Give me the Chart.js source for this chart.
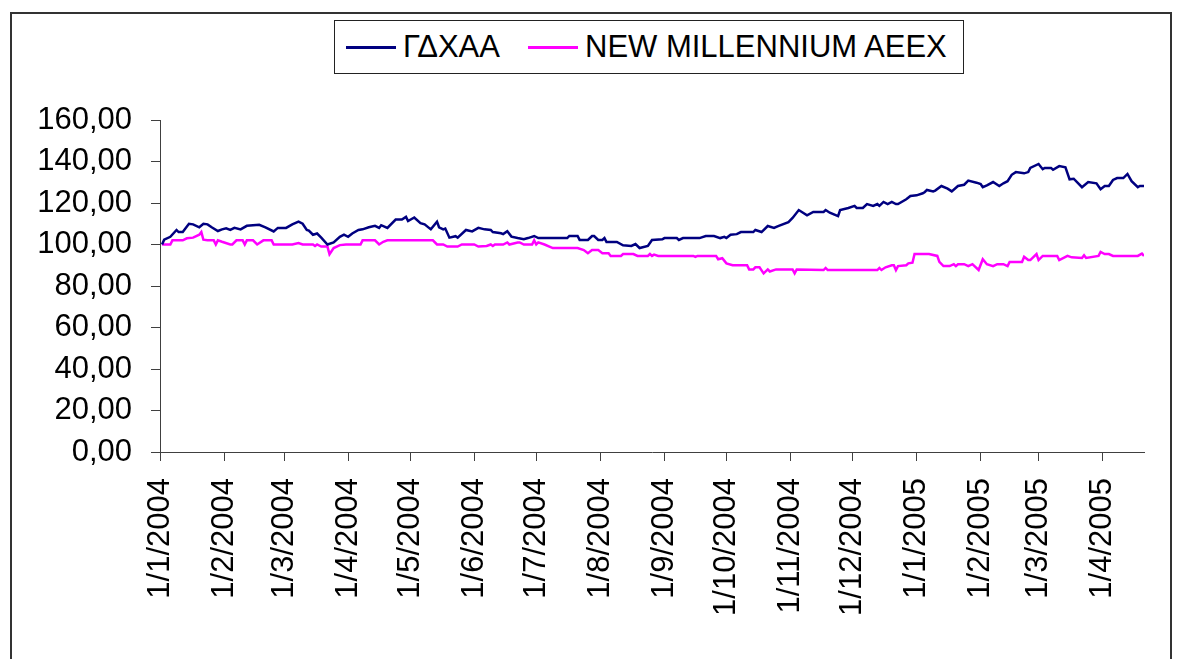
<!DOCTYPE html>
<html>
<head>
<meta charset="utf-8">
<script src="https://cdn.jsdelivr.net/npm/chart.js@4.4.1/dist/chart.umd.min.js"></script>
<style>
  body { margin: 0; background: #fff; }
  #wrap { position: relative; width: 1181px; height: 659px; overflow: hidden; }
  #frame { position: absolute; left: 10px; top: 12px; width: 1158px; height: 700px; border: 2px solid #333; }
  #lineChart { position: absolute; left: 0; top: 0; }
  #legend { position: absolute; left: 334px; top: 20px; width: 628px; height: 52px; border: 1px solid #222;
            font-family: 'Liberation Sans', Arial, sans-serif; font-size: 31px; color: #000; background: #fff; }
  .item { position: absolute; top: 0; height: 52px; display: flex; align-items: center; white-space: nowrap; }
  .swatch { width: 50px; height: 3px; margin-right: 7px; }
</style>
</head>
<body>
<div id="wrap">
  <div id="frame"></div>
  <canvas id="lineChart" width="1181" height="659"></canvas>
  <div id="legend"></div>
</div>
<script>
// x values are days counted from 1/1/2004
const tickLabels = ['1/1/2004', '1/2/2004', '1/3/2004', '1/4/2004', '1/5/2004', '1/6/2004', '1/7/2004',
  '1/8/2004', '1/9/2004', '1/10/2004', '1/11/2004', '1/12/2004', '1/1/2005', '1/2/2005', '1/3/2005', '1/4/2005'];
const lastDay = 476;

const gdxaaDays = [1, 2, 5, 8, 9, 11, 14, 16, 19, 21, 23, 25, 28, 30, 32, 34, 36, 39, 42, 48, 51, 55, 57, 61, 64, 67, 69, 71, 72, 74,
  76, 78, 81, 84, 87, 89, 91, 93, 96, 98, 101, 104, 106, 107, 110, 114, 117, 119, 120, 123, 126, 128, 131, 134, 135, 137, 138, 140,
  143, 144, 148, 151, 154, 157, 160, 161, 165, 166, 168, 170, 173, 176, 178, 181, 183, 197, 198, 202, 203, 207, 209, 210, 212, 214,
  215, 216, 221, 224, 228, 230, 232, 236, 238, 243, 244, 250, 251, 253, 261, 264, 268, 271, 273, 274, 276, 279, 281, 287, 288, 291,
  294, 297, 299, 304, 306, 309, 313, 316, 321, 322, 324, 328, 329, 333, 336, 337, 340, 342, 345, 347, 348, 350, 352, 354, 356, 357,
  361, 363, 366, 369, 370, 371, 374, 375, 378, 381, 383, 386, 389, 391, 395, 397, 398, 400, 403, 406, 408, 410, 412, 414, 418, 420,
  421, 425, 427, 428, 431, 432, 435, 438, 440, 442, 446, 449, 453, 455, 457, 459, 461, 463, 466, 468, 470, 473, 474, 476];
const gdxaaValues = [100, 102.3, 103.7, 107, 106, 106, 110, 109.7, 108.3, 110, 109.7, 108.3, 106.5, 107.3, 107.8, 107, 108, 107.3,
  109, 109.5, 108.3, 106.3, 108, 108, 109.7, 111, 110, 107, 106.7, 104.7, 105.3, 103.3, 100, 101, 103.7, 104.7, 103.7, 105.3, 107,
  107.3, 108.3, 109, 108, 109.3, 108, 112, 112, 113.3, 111.3, 113, 110.3, 109.7, 107.3, 111, 108.3, 107.3, 107.7, 103.3, 104, 103.3,
  107, 106.3, 108, 107.3, 107, 106, 105.4, 105, 106.4, 103.8, 103.1, 102.5, 103.1, 104.1, 103.1, 103.1, 104.1, 104.1, 102.2, 102.2,
  104.1, 104.1, 102.2, 102.2, 103.1, 101.2, 101.2, 99.6, 99.3, 100.2, 98.3, 99.3, 102.2, 102.5, 103.1, 103.1, 102.2, 103.1, 103.1,
  104.1, 104.1, 103.1, 103.7, 103.1, 104.7, 105, 106, 106, 107, 106, 108.9, 108, 108.9, 110.8, 112.8, 116.6, 114.1, 115.7, 115.7,
  116.6, 115.3, 113.7, 116.6, 117.6, 118.6, 117.6, 117.6, 119.5, 118.6, 119.5, 118.6, 120.5, 119.5, 120.5, 119.5, 119.5, 121.8,
  123.4, 123.7, 124.7, 125.3, 126.3, 125.6, 126, 128.2, 126.9, 125.6, 128.2, 128.8, 130.8, 129.8, 129.1, 127.6, 128.5, 130.1, 128.2,
  129.5, 130.5, 133.6, 134.9, 134.3, 134.9, 136.9, 138.8, 136.3, 136.9, 136.9, 136, 137.8, 137.2, 131.4, 131.7, 127.6, 130.1, 129.5,
  126.6, 128.2, 128.2, 131.1, 132, 132, 134, 130.5, 127.6, 128.2, 128.2];

const nmDays = [1, 5, 6, 11, 13, 16, 19, 20, 21, 23, 26, 27, 28, 30, 34, 35, 37, 40, 41, 42, 45, 47, 50, 54, 55, 64, 67, 69, 74, 75,
  76, 78, 81, 82, 84, 87, 90, 97, 98, 104, 106, 108, 110, 132, 134, 137, 139, 144, 146, 152, 154, 158, 160, 161, 162, 166, 168, 169,
  173, 174, 176, 180, 181, 182, 183, 186, 190, 202, 205, 207, 209, 212, 214, 217, 218, 223, 224, 229, 231, 236, 237, 238, 239, 241,
  258, 259, 260, 269, 270, 272, 274, 277, 284, 285, 287, 288, 290, 292, 294, 295, 298, 306, 307, 308, 321, 322, 323, 347, 348, 349,
  351, 354, 355, 356, 357, 361, 362, 364, 365, 372, 376, 377, 379, 382, 384, 385, 386, 389, 391, 393, 396, 398, 400, 403, 405, 408,
  410, 411, 417, 418, 420, 421, 424, 425, 427, 434, 435, 439, 441, 446, 447, 448, 454, 455, 457, 459, 461, 473, 475, 476];
const nmValues = [100, 100, 102, 102, 103, 103.3, 104.7, 106, 102.3, 102, 102, 100, 102, 101.3, 100, 100, 102, 102, 100, 102, 102,
  100, 102, 102, 100, 100, 100.7, 100, 100, 99.3, 100, 99, 99, 95.3, 98.3, 99.7, 100, 100, 102, 102, 100, 101.3, 102, 102, 100, 100,
  99, 99, 100, 100, 99, 99.3, 100, 99.3, 100, 100, 101, 100, 101, 101, 100, 100, 102, 100, 101, 100, 98.3, 98.3, 97.3, 95.8, 97.3,
  97.3, 95.8, 95.8, 94.5, 94.5, 95.4, 95.4, 94.5, 94.5, 95.4, 94.5, 95.1, 94.5, 94.5, 94, 94.5, 94.5, 92.9, 93.4, 90.9, 90, 90, 88,
  88, 89, 89, 86.1, 88, 87, 88, 88, 86.1, 88, 87.7, 88.7, 87.7, 87.7, 88.7, 87.7, 89, 90, 90, 87.7, 89.6, 90, 90.9, 91.2, 95.4, 95.4,
  94.5, 91.6, 89.6, 89.6, 90.5, 89.6, 90.5, 90.5, 89.6, 90.5, 87.7, 92.9, 90.5, 89.6, 90.5, 90.5, 89.6, 91.6, 91.6, 94.1, 92.5, 92.5,
  95.4, 92.5, 94.5, 94.5, 92.5, 94.5, 93.8, 93.5, 94.8, 93.5, 94.5, 96.4, 95.4, 95.4, 94.5, 94.5, 95.6, 94.5];

const seriesNames = ['ΓΔΧΑΑ', 'NEW MILLENNIUM AEEX'];
const seriesColors = ['#000080', '#FF00FF'];

// day number of each d/m/yyyy tick label
const dayZero = Date.UTC(2004, 0, 1);
const tickDays = tickLabels.map(function (s) {
  const p = s.split('/');
  return Math.round((Date.UTC(+p[2], +p[1] - 1, +p[0]) - dayZero) / 86400000);
});

function toPoints(days, values) {
  return days.map(function (d, i) { return { x: d, y: values[i] }; });
}

const axisColor = '#404040';
const tickFont = { family: "'Liberation Sans', Arial, sans-serif", size: 31 };

const config = {
  type: 'line',
  data: {
    datasets: [{
      label: seriesNames[0],
      data: toPoints(gdxaaDays, gdxaaValues),
      borderColor: seriesColors[0],
      borderWidth: 2.5,
      pointRadius: 0,
      tension: 0
    }, {
      label: seriesNames[1],
      data: toPoints(nmDays, nmValues),
      borderColor: seriesColors[1],
      borderWidth: 2.5,
      pointRadius: 0,
      tension: 0
    }]
  },
  options: {
    responsive: false,
    animation: false,
    layout: { padding: { top: 120, right: 37, left: 0, bottom: 0 } },
    plugins: { legend: { display: false }, tooltip: { enabled: false } },
    scales: {
      x: {
        type: 'linear',
        min: 0,
        max: lastDay,
        afterBuildTicks: function (scale) {
          scale.ticks = tickDays.map(function (v) { return { value: v }; });
        },
        afterFit: function (scale) { scale.height = 207; },
        ticks: {
          autoSkip: false,
          minRotation: 90,
          maxRotation: 90,
          padding: 17,
          color: '#000',
          font: tickFont,
          callback: function (v) { return tickLabels[tickDays.indexOf(v)]; }
        },
        grid: { drawOnChartArea: false, tickLength: 9, color: axisColor },
        border: { color: axisColor, width: 1 }
      },
      y: {
        min: 0,
        max: 160,
        afterFit: function (scale) { scale.width = 160; },
        ticks: {
          stepSize: 20,
          padding: 19,
          color: '#000',
          font: tickFont,
          callback: function (v) { return v.toFixed(2).replace('.', ','); }
        },
        grid: { drawOnChartArea: false, tickLength: 9, color: axisColor },
        border: { color: axisColor, width: 1 }
      }
    }
  }
};

const myChart = new Chart(document.getElementById('lineChart'), config);

// legend box like the original
const legendBox = document.getElementById('legend');
const itemLefts = [11, 193];
myChart.data.datasets.forEach(function (ds, i) {
  const item = document.createElement('div');
  item.className = 'item';
  item.style.left = itemLefts[i] + 'px';
  const sw = document.createElement('span');
  sw.className = 'swatch';
  sw.style.background = ds.borderColor;
  const txt = document.createElement('span');
  txt.textContent = ds.label;
  item.appendChild(sw);
  item.appendChild(txt);
  legendBox.appendChild(item);
});
</script>
</body>
</html>
